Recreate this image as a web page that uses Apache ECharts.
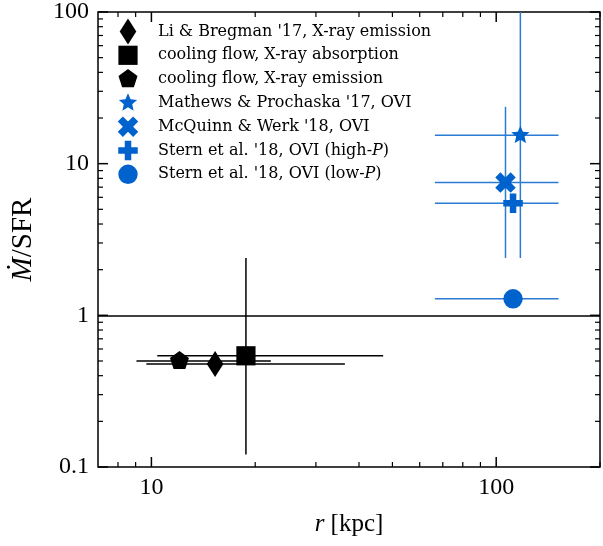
<!DOCTYPE html>
<html>
<head>
<meta charset="utf-8">
<script src="https://cdn.jsdelivr.net/npm/echarts@6/dist/echarts.min.js"></script>
<style>
html, body { margin: 0; padding: 0; background: #fff; }
#chart { width: 603px; height: 546px; }
</style>
</head>
<body>
<div id="chart"></div>
<script>
// Measurements of outflow/inflow rate over star formation rate vs. radius
const seriesNames = [
  "Li & Bregman '17, X-ray emission",
  'cooling flow, X-ray absorption',
  'cooling flow, X-ray emission',
  "Mathews & Prochaska '17, OVI",
  "McQuinn & Werk '18, OVI",
  "Stern et al. '18, OVI (high-P)",
  "Stern et al. '18, OVI (low-P)"
];
const radius   = [15.3, 18.8, 12.06, 117.5, 106.4, 111.9, 111.9];
const ratio    = [0.477, 0.541, 0.50, 15.4, 7.5, 5.49, 1.285];
const radiusLo = [9.67, 10.4, 9.05, 66.4, 66.4, 66.4, 66.4];
const radiusHi = [36.4, 47.0, 22.2, 151.6, 151.6, 151.6, 151.6];
const ratioLo  = [null, 0.121, null, 2.39, 2.39, null, null];
const ratioHi  = [null, 2.39, null, 300, 23.7, null, null];
const unityLevel = 1;

const xMajorTicks = [10, 100];
const xMinorTicks = [8, 9, 20, 30, 40, 50, 60, 70, 80, 90, 200];
const yMajorTicks = [0.1, 1, 10, 100];
const yMinorTicks = [0.2, 0.3, 0.4, 0.5, 0.6, 0.7, 0.8, 0.9,
                     2, 3, 4, 5, 6, 7, 8, 9, 20, 30, 40, 50, 60, 70, 80, 90];

const BLACK = '#000000';
const BLUE = '#0062cc';
const BLUE_BAR = '#2a7bd3';
const seriesColors = [BLACK, BLACK, BLACK, BLUE, BLUE, BLUE, BLUE];
const barColors = [BLACK, BLACK, BLACK, BLUE_BAR, BLUE_BAR, BLUE_BAR, BLUE_BAR];

// Marker shapes, all drawn inside a common 26x26 frame so legend icons
// and plot markers keep their own proportions.
const FRAME = 'M-13,-13L-13,-13M13,13L13,13';
function poly(pts) {
  return 'path://' + FRAME + 'M' + pts.map(p => p[0].toFixed(3) + ',' + p[1].toFixed(3)).join('L') + 'Z';
}
function regular(n, R, rInner) {
  const pts = [];
  const steps = rInner ? n * 2 : n;
  for (let k = 0; k < steps; k++) {
    const a = -Math.PI / 2 + k * 2 * Math.PI / steps;
    const r = rInner && (k % 2 === 1) ? rInner : R;
    pts.push([r * Math.cos(a), r * Math.sin(a)]);
  }
  return pts;
}
const xFilled = [[-0.25,-0.5],[0,-0.25],[0.25,-0.5],[0.5,-0.25],[0.25,0],[0.5,0.25],
                 [0.25,0.5],[0,0.25],[-0.25,0.5],[-0.5,0.25],[-0.25,0],[-0.5,-0.25]];
const t = 1 / 6;
const plusFilled = [[-t,-0.5],[t,-0.5],[t,-t],[0.5,-t],[0.5,t],[t,t],
                    [t,0.5],[-t,0.5],[-t,t],[-0.5,t],[-0.5,-t],[-t,-t]];
const symbols = [
  poly([[0,-13],[8.3,0],[0,13],[-8.3,0]]),
  poly([[-9.6,-9.6],[9.6,-9.6],[9.6,9.6],[-9.6,9.6]]),
  poly(regular(5, 10)),
  poly(regular(5, 9.6, 4.4)),
  poly(xFilled.map(p => [p[0] * 20.5, p[1] * 20.5])),
  poly(plusFilled.map(p => [p[0] * 19.5, p[1] * 19.5])),
  'path://' + FRAME + 'M-9.7,0A9.7,9.7 0 1,0 9.7,0A9.7,9.7 0 1,0 -9.7,0Z'
];

const FONT_TICK = '"Liberation Serif", serif';
const FONT_LEGEND = '"DejaVu Serif", serif';

function isPow10(v) {
  const l = Math.log10(v);
  return Math.abs(l - Math.round(l)) < 1e-6;
}
function fmt(v) {
  return isPow10(v) ? String(Number(v.toPrecision(6))) : '';
}

// Error-bar segments built from the value arrays
const errSegments = [];
for (let i = 0; i < radius.length; i++) {
  errSegments.push([radius[i], ratio[i], radiusLo[i], radiusHi[i], 0, i]);
  if (ratioLo[i] != null) {
    errSegments.push([radius[i], ratio[i], ratioLo[i], ratioHi[i], 1, i]);
  }
}

const xTickData = xMajorTicks.map(v => [v, 1, 1]).concat(xMinorTicks.map(v => [v, 0, 1]));
const yTickData = yMajorTicks.map(v => [v, 1, 10]).concat(yMinorTicks.map(v => [v, 0, 10]));

function tickLine(x1, y1, x2, y2, w) {
  return { type: 'line', shape: { x1, y1, x2, y2 }, style: { stroke: '#000', lineWidth: w } };
}

const scatterSeries = seriesNames.map((name, i) => ({
  name,
  type: 'scatter',
  z: 4,
  symbol: symbols[i],
  symbolSize: 26,
  symbolKeepAspect: true,
  itemStyle: { color: seriesColors[i], opacity: 1 },
  emphasis: { disabled: true },
  data: [[radius[i], ratio[i]]]
}));
scatterSeries[0].markLine = {
  silent: true,
  symbol: 'none',
  label: { show: false },
  lineStyle: { color: '#000', width: 1.5, type: 'solid' },
  data: [{ yAxis: unityLevel }]
};

const LEGEND_SIZE = 16;
const legendRich = {
  n: { fontFamily: FONT_LEGEND, fontSize: LEGEND_SIZE, color: '#000' },
  i: { fontFamily: FONT_LEGEND, fontSize: LEGEND_SIZE, color: '#000', fontStyle: 'italic' }
};

const option = {
  animation: false,
  grid: {
    left: 98, right: 1.5, top: 10, bottom: 79,
    show: true, borderColor: '#000', borderWidth: 1.5, backgroundColor: 'transparent'
  },
  legend: {
    orient: 'vertical',
    left: 115,
    top: 18.5,
    padding: 0,
    itemWidth: 26,
    itemHeight: 26,
    itemGap: -2.2,
    symbolKeepAspect: true,
    selectedMode: false,
    data: seriesNames.map((n, i) => ({ name: n, icon: symbols[i] })),
    textStyle: {
      fontFamily: FONT_LEGEND, fontSize: LEGEND_SIZE, color: '#000',
      padding: [0, 0, 0, 12],
      rich: legendRich
    },
    formatter: function (name) {
      const m = name.match(/^(.*-)P\)$/);
      if (m) return '{n|' + m[1] + '}{i|P}{n|)}';
      return '{n|' + name + '}';
    }
  },
  xAxis: {
    type: 'log', logBase: 10, min: 7, max: 200,
    axisLine: { show: false },
    axisTick: { show: false },
    splitLine: { show: false },
    axisLabel: { formatter: fmt, fontFamily: FONT_TICK, fontSize: 24, color: '#000', margin: 9 },
    name: '{i|r} [kpc]',
    nameLocation: 'middle',
    nameGap: 45,
    nameTextStyle: {
      fontFamily: FONT_TICK, fontSize: 25, color: '#000',
      rich: { i: { fontFamily: FONT_TICK, fontSize: 25, fontStyle: 'italic', color: '#000' } }
    }
  },
  yAxis: {
    type: 'log', logBase: 10, min: 0.1, max: 100,
    axisLine: { show: false },
    axisTick: { show: false },
    splitLine: { show: false },
    axisLabel: { formatter: fmt, fontFamily: FONT_TICK, fontSize: 24, color: '#000', margin: 9 },
    name: '{i|Ṁ}/SFR',
    nameLocation: 'middle',
    nameRotate: 90,
    nameGap: 60,
    nameTextStyle: {
      fontFamily: FONT_TICK, fontSize: 29, color: '#000',
      rich: { i: { fontFamily: FONT_TICK, fontSize: 29, fontStyle: 'italic', color: '#000' } }
    }
  },
  series: [
    {
      type: 'custom',
      z: 2,
      clip: true,
      silent: true,
      encode: { x: 0, y: 1 },
      data: errSegments,
      renderItem: function (params, api) {
        const x = api.value(0), y = api.value(1);
        const lo = api.value(2), hi = api.value(3);
        const dir = api.value(4), idx = api.value(5);
        const a = dir === 0 ? api.coord([lo, y]) : api.coord([x, lo]);
        const b = dir === 0 ? api.coord([hi, y]) : api.coord([x, hi]);
        return {
          type: 'line',
          shape: { x1: a[0], y1: a[1], x2: b[0], y2: b[1] },
          style: { stroke: barColors[idx], lineWidth: 1.5 }
        };
      }
    },
    ...scatterSeries,
    {
      type: 'custom',
      z: 6,
      clip: false,
      silent: true,
      encode: { x: 0, y: 2 },
      data: xTickData,
      renderItem: function (params, api) {
        const cs = params.coordSys;
        const px = api.coord([api.value(0), 1])[0];
        const major = api.value(1) === 1;
        const L = major ? 10 : 5, w = major ? 1.5 : 1.2;
        const yb = cs.y + cs.height, yt = cs.y;
        return { type: 'group', children: [
          tickLine(px, yb, px, yb - L, w),
          tickLine(px, yt, px, yt + L, w)
        ] };
      }
    },
    {
      type: 'custom',
      z: 6,
      clip: false,
      silent: true,
      encode: { x: 2, y: 0 },
      data: yTickData,
      renderItem: function (params, api) {
        const cs = params.coordSys;
        const py = api.coord([10, api.value(0)])[1];
        const major = api.value(1) === 1;
        const L = major ? 10 : 5, w = major ? 1.5 : 1.2;
        const xl = cs.x, xr = cs.x + cs.width;
        return { type: 'group', children: [
          tickLine(xl, py, xl + L, py, w),
          tickLine(xr, py, xr - L, py, w)
        ] };
      }
    }
  ]
};

const chart = echarts.init(document.getElementById('chart'), null, { renderer: 'canvas' });
chart.setOption(option);
</script>
</body>
</html>
